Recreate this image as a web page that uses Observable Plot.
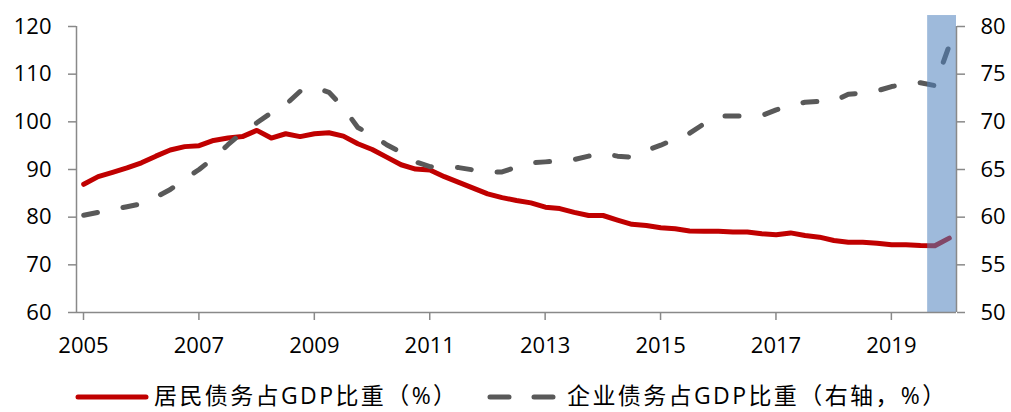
<!DOCTYPE html>
<html>
<head>
<meta charset="utf-8">
<script src="https://cdn.jsdelivr.net/npm/d3@7"></script>
<script src="https://cdn.jsdelivr.net/npm/@observablehq/plot@0.6"></script>
<style>
  html, body { margin: 0; padding: 0; background: #fff; overflow: hidden; }
  #chart svg { display: block; }
  #legend { position: relative; width: 1011px; height: 26px; font-family: "Open Sans", "Noto Sans CJK SC", sans-serif; font-size: 23px; letter-spacing: 2.4px; color: #000; }
  #legend .item { position: absolute; top: 0; height: 26px; line-height: 26px; white-space: nowrap; }
  #legend svg { position: absolute; top: 0; }
</style>
</head>
<body>
<div id="chart"></div>
<div id="legend"></div>
<script>
const quarters = [
  "2005Q1","2005Q2","2005Q3","2005Q4","2006Q1","2006Q2","2006Q3","2006Q4",
  "2007Q1","2007Q2","2007Q3","2007Q4","2008Q1","2008Q2","2008Q3","2008Q4",
  "2009Q1","2009Q2","2009Q3","2009Q4","2010Q1","2010Q2","2010Q3","2010Q4",
  "2011Q1","2011Q2","2011Q3","2011Q4","2012Q1","2012Q2","2012Q3","2012Q4",
  "2013Q1","2013Q2","2013Q3","2013Q4","2014Q1","2014Q2","2014Q3","2014Q4",
  "2015Q1","2015Q2","2015Q3","2015Q4","2016Q1","2016Q2","2016Q3","2016Q4",
  "2017Q1","2017Q2","2017Q3","2017Q4","2018Q1","2018Q2","2018Q3","2018Q4",
  "2019Q1","2019Q2","2019Q3","2019Q4","2020Q1"
];
// 居民债务占GDP比重（%）— left axis
const household = [
  86.9,88.5,89.4,90.35,91.4,92.8,94.1,94.8,95.0,96.1,
  96.6,96.9,98.2,96.6,97.5,96.9,97.5,97.7,97.0,95.4,
  94.2,92.6,91.0,90.1,89.9,88.5,87.3,86.1,84.9,84.1,
  83.5,83.0,82.1,81.8,81.0,80.35,80.35,79.4,78.5,78.25,
  77.8,77.55,77.1,77.05,77.05,76.9,76.9,76.5,76.3,76.7,
  76.15,75.8,75.1,74.75,74.75,74.55,74.2,74.2,74.05,74.0,75.6
];
// 企业债务占GDP比重（右轴，%）— right axis
const corporate = [
  60.2,60.5,60.8,61.1,61.4,62.1,62.9,64.0,65.0,66.2,
  67.6,68.9,69.9,70.95,71.8,73.2,73.6,73.1,71.5,69.4,
  68.6,67.6,66.8,65.8,65.3,65.25,65.2,64.95,64.7,64.75,
  65.25,65.7,65.8,65.9,66.05,66.4,66.7,66.4,66.3,67.0,
  67.55,68.2,68.8,69.8,70.6,70.6,70.6,70.65,71.25,71.7,
  72.05,72.15,72.15,72.9,73.0,73.25,73.7,73.95,74.1,73.8,78.0
];
const shadedQuarters = ["2019Q4","2020Q1"];
const xTickYears = [2005,2007,2009,2011,2013,2015,2017,2019];
const leftTicks = [60,70,80,90,100,110,120];
const rightTicks = [50,55,60,65,70,75,80];
const seriesNames = ["居民债务占GDP比重（%）","企业债务占GDP比重（右轴，%）"];

const leftDomain = [60, 120];
const rightDomain = [50, 80];
const toLeft = v => leftDomain[0] + (v - rightDomain[0]) * (leftDomain[1]-leftDomain[0])/(rightDomain[1]-rightDomain[0]);

const qStart = q => +q.slice(0,4) + (+q.slice(5) - 1) / 4;
const qMid = q => qStart(q) + 0.125;

const hh = quarters.map((q,i) => ({x: qMid(q), y: household[i]}));
const co = quarters.map((q,i) => ({x: qMid(q), y: toLeft(corporate[i])}));
const shade = [{x1: qStart(shadedQuarters[0]), x2: qStart(shadedQuarters[shadedQuarters.length-1]) + 0.25}];

const axisColor = "#898989";
const font = "'Open Sans', 'Noto Sans CJK SC', sans-serif";

const plot = Plot.plot({
  width: 1011,
  height: 382,
  marginLeft: 76,
  marginRight: 55,
  marginTop: 26,
  marginBottom: 70,
  style: {fontFamily: font, fontSize: "22px", background: "#fff", overflow: "visible"},
  x: {domain: [2005, qStart(quarters[quarters.length-1]) + 0.25]},
  y: {domain: leftDomain},
  marks: [
    Plot.line(hh, {x: "x", y: "y", stroke: "#C00000", strokeWidth: 5, strokeLinejoin: "round", strokeLinecap: "round"}),
    Plot.line(co, {x: "x", y: "y", stroke: "#595959", strokeWidth: 5, strokeDasharray: "14,26", strokeLinejoin: "round", strokeLinecap: "round"}),
    Plot.rect(shade, {x1: "x1", x2: "x2", y1: leftDomain[0], y2: leftDomain[1] + 2.3, fill: "#4F81BD", fillOpacity: 0.55}),
    Plot.ruleX([2005], {y1: leftDomain[0], y2: leftDomain[1], stroke: axisColor, strokeWidth: 1.5}),
    Plot.ruleX([qStart(quarters[quarters.length-1]) + 0.25], {y1: leftDomain[0], y2: leftDomain[1], stroke: axisColor, strokeWidth: 1.5}),
    Plot.ruleY([leftDomain[0]], {stroke: axisColor, strokeWidth: 1.5}),
    Plot.axisY({anchor: "left", ticks: leftTicks, tickSize: 8, tickPadding: 17, stroke: axisColor, strokeWidth: 1.5, fill: "#000", label: null, fontSize: 22}),
    Plot.axisY({anchor: "right", ticks: rightTicks.map(toLeft), tickFormat: d => String(rightTicks[rightTicks.map(toLeft).indexOf(d)]), tickSize: 8, tickPadding: 16, stroke: axisColor, strokeWidth: 1.5, fill: "#000", label: null, fontSize: 22}),
    Plot.axisX({ticks: xTickYears, tickFormat: d => String(d), tickSize: 8, tickPadding: 17, stroke: axisColor, strokeWidth: 1.5, fill: "#000", label: null, fontSize: 22, dx: 7})
  ]
});
document.getElementById("chart").appendChild(plot);

// Legend
const legend = document.getElementById("legend");
legend.innerHTML = `
  <svg width="90" height="26" style="left:72px"><line x1="6" y1="15" x2="74" y2="15" stroke="#C00000" stroke-width="5" stroke-linecap="round"/></svg>
  <span class="item" style="left:154px">${seriesNames[0]}</span>
  <svg width="90" height="26" style="left:484px"><line x1="6" y1="15" x2="72" y2="15" stroke="#595959" stroke-width="5" stroke-dasharray="19,25" stroke-linecap="round"/></svg>
  <span class="item" style="left:567px">${seriesNames[1]}</span>
`;
</script>
</body>
</html>
